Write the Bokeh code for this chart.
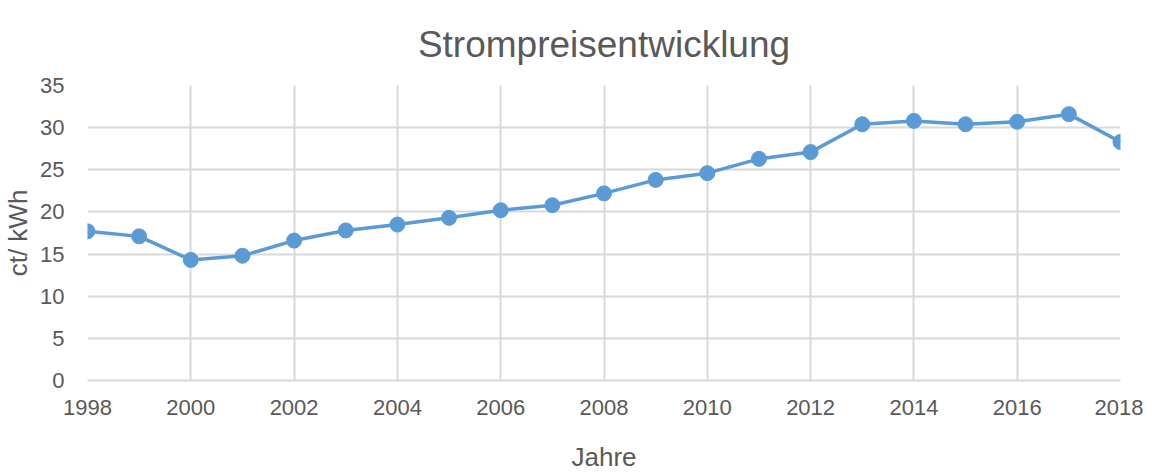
from bokeh.plotting import figure
from bokeh.embed import file_html
from bokeh.resources import INLINE
from bokeh.models import FixedTicker, Range1d

years = list(range(1998, 2019))
prices = [17.7, 17.1, 14.3, 14.8, 16.6, 17.8, 18.5, 19.3, 20.2, 20.8, 22.2,
          23.8, 24.6, 26.3, 27.1, 30.4, 30.8, 30.4, 30.7, 31.6, 28.3]
x_ticks = list(range(1998, 2019, 2))
y_ticks = list(range(0, 36, 5))

FONT = "Liberation Sans"
TXT = "#595959"
GRID = "#d9d9d9"
BLUE = "#5b9bd5"

p = figure(frame_width=1033, frame_height=295, output_backend="svg", toolbar_location=None,
           x_range=Range1d(1998, 2018), y_range=Range1d(0, 35),
           min_border_left=82, min_border_right=23, min_border_top=85, min_border_bottom=70,
           title="Strompreisentwicklung")
p.outline_line_color = None
p.title.align = "center"
p.title.vertical_align = "top"
p.title.text_font = FONT
p.title.text_font_size = "37px"
p.title.text_font_style = "normal"
p.title.text_color = TXT
p.title.text_line_height = 0.4
p.title.offset = 0
p.title.standoff = 38

p.xaxis.ticker = FixedTicker(ticks=x_ticks)
p.yaxis.ticker = FixedTicker(ticks=y_ticks)
for ax in (p.xaxis, p.yaxis):
    ax.major_tick_line_color = None
    ax.minor_tick_line_color = None
    ax.major_label_text_font = FONT
    ax.major_label_text_font_size = "22px"
    ax.major_label_text_color = TXT
    ax.axis_label_text_font = FONT
    ax.axis_label_text_font_size = "26px"
    ax.axis_label_text_color = TXT
    ax.axis_label_text_font_style = "normal"
p.xaxis.axis_line_color = GRID
p.xaxis.axis_line_width = 2
p.yaxis.axis_line_color = None
p.xaxis.major_label_standoff = 13
p.yaxis.major_label_standoff = 17
p.xaxis.axis_label = "Jahre"
p.yaxis.axis_label = "ct/ kWh"
p.xaxis.axis_label_standoff = 24
p.yaxis.axis_label_standoff = 4

p.xgrid.grid_line_color = GRID
p.ygrid.grid_line_color = GRID
p.xgrid.grid_line_width = 2
p.ygrid.grid_line_width = 2

p.line(years, prices, line_color=BLUE, line_width=3.5)
p.scatter(years, prices, size=15, fill_color=BLUE, line_color=BLUE)

open("out.html", "w").write(file_html(p, INLINE))
